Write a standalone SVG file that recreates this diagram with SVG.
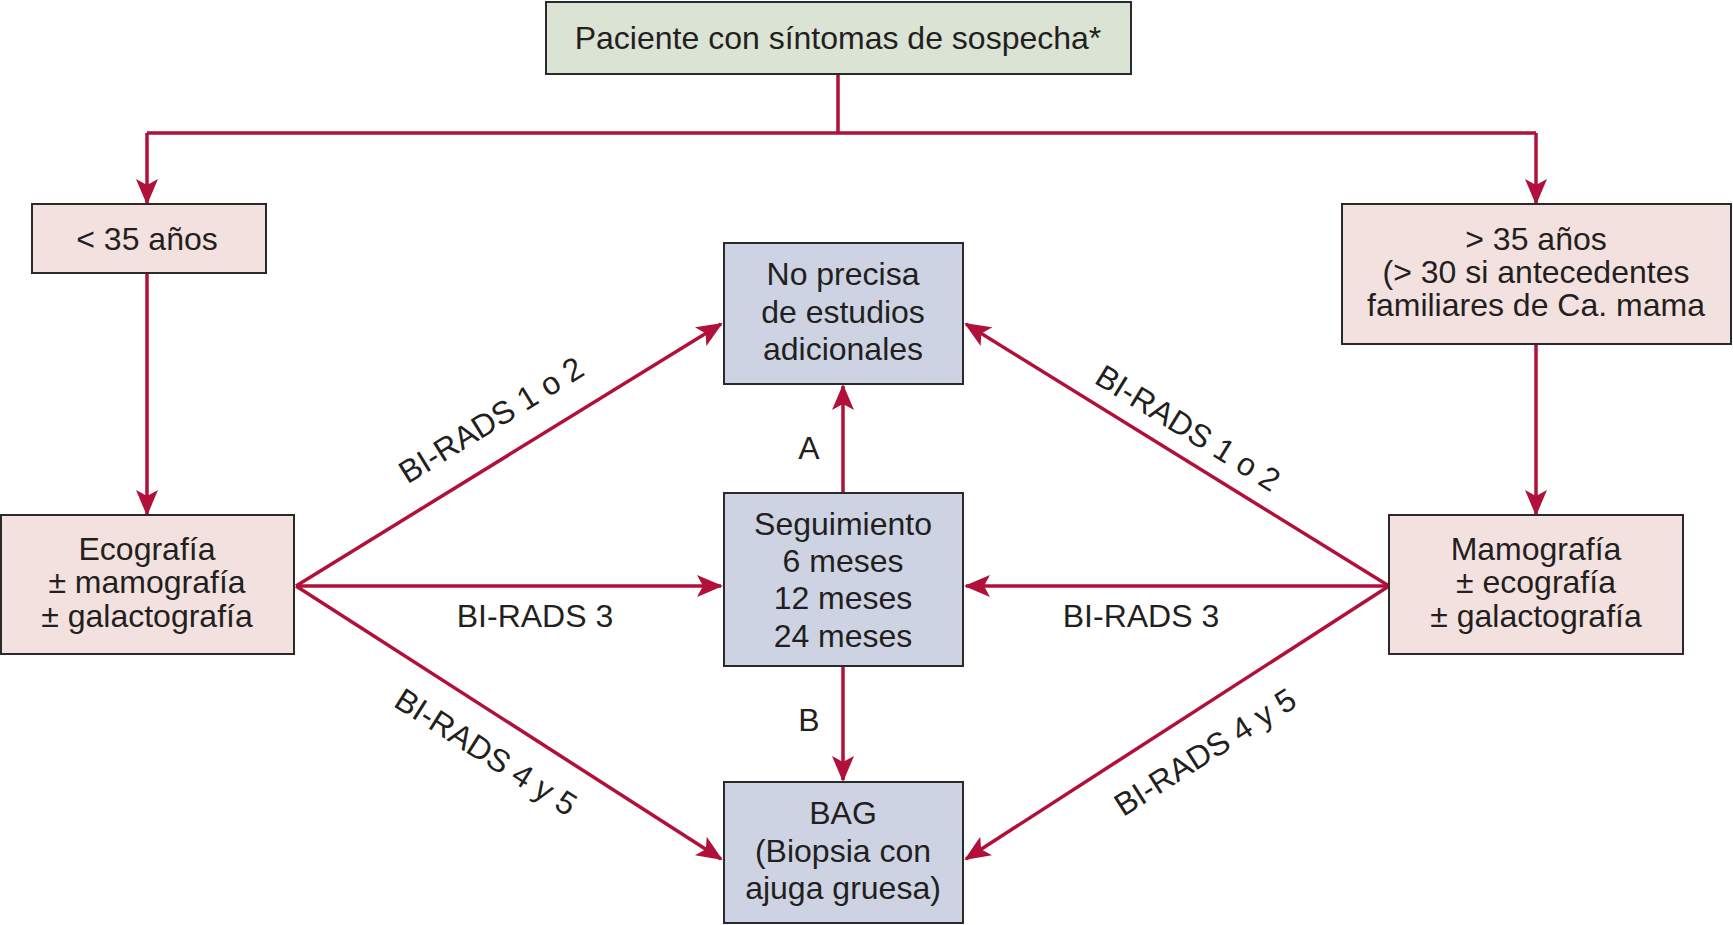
<svg xmlns="http://www.w3.org/2000/svg" width="1733" height="925" viewBox="0 0 1733 925">
<style>
.box{stroke:#2a2a2a;stroke-width:2}
.g{fill:#dbe3d5}
.p{fill:#f3e1df}
.b{fill:#cdd3e3}
text{font-family:"Liberation Sans",Arial,sans-serif;font-size:32px;fill:#231f20;text-anchor:middle}
.c{fill:none;stroke:#b0103a;stroke-width:3.5}
</style>
<defs>
<marker id="ah" markerUnits="userSpaceOnUse" markerWidth="26" markerHeight="22" viewBox="0 0 26 22" refX="24" refY="11" orient="auto">
<path d="M0,0 L26,11 L0,22 L6,11 Z" fill="#b0103a"/>
</marker>
</defs>
<rect width="1733" height="925" fill="#fff"/>
<g id="connectors">
<path class="c" d="M838,74 V133 M147,133 H1536"/>
<path class="c" d="M147,133 V203" marker-end="url(#ah)"/>
<path class="c" d="M1536,133 V203" marker-end="url(#ah)"/>
<path class="c" d="M147,273 V514" marker-end="url(#ah)"/>
<path class="c" d="M1536,344 V514" marker-end="url(#ah)"/>
<path class="c" d="M296,586 L721,324" marker-end="url(#ah)"/>
<path class="c" d="M296,586 L721,586" marker-end="url(#ah)"/>
<path class="c" d="M296,586 L721,859" marker-end="url(#ah)"/>
<path class="c" d="M1389,586 L966,324" marker-end="url(#ah)"/>
<path class="c" d="M1389,586 L966,586" marker-end="url(#ah)"/>
<path class="c" d="M1389,586 L966,859" marker-end="url(#ah)"/>
<path class="c" d="M843,493 V386" marker-end="url(#ah)"/>
<path class="c" d="M843,666 V780" marker-end="url(#ah)"/>
<text x="809" y="459">A</text>
<text x="809" y="731">B</text>
<text transform="translate(491,420) rotate(-31.7)" y="11">BI-RADS 1 o 2</text>
<text x="535" y="627">BI-RADS 3</text>
<text transform="translate(486,752) rotate(32.5)" y="11">BI-RADS 4 y 5</text>
<text transform="translate(1188,428) rotate(31.7)" y="11">BI-RADS 1 o 2</text>
<text x="1141" y="627">BI-RADS 3</text>
<text transform="translate(1205,752) rotate(-32.5)" y="11">BI-RADS 4 y 5</text>
</g>
<g id="n-paciente">
<rect class="box g" x="546" y="2" width="585" height="72"/>
<text x="838" y="49">Paciente con síntomas de sospecha*</text>
</g>
<g id="n-menor35">
<rect class="box p" x="32" y="204" width="234" height="69"/>
<text x="147" y="250">&lt; 35 años</text>
</g>
<g id="n-mayor35">
<rect class="box p" x="1342" y="204" width="389" height="140"/>
<text x="1536" y="250">&gt; 35 años</text>
<text x="1536" y="283">(&gt; 30 si antecedentes</text>
<text x="1536" y="316">familiares de Ca. mama</text>
</g>
<g id="n-eco">
<rect class="box p" x="1" y="515" width="293" height="139"/>
<text x="147" y="560">Ecografía</text>
<text x="147" y="593">± mamografía</text>
<text x="147" y="627">± galactografía</text>
</g>
<g id="n-mamo">
<rect class="box p" x="1389" y="515" width="294" height="139"/>
<text x="1536" y="560">Mamografía</text>
<text x="1536" y="593">± ecografía</text>
<text x="1536" y="627">± galactografía</text>
</g>
<g id="n-noprecisa">
<rect class="box b" x="724" y="243" width="239" height="141"/>
<text x="843" y="285">No precisa</text>
<text x="843" y="323">de estudios</text>
<text x="843" y="360">adicionales</text>
</g>
<g id="n-seguimiento">
<rect class="box b" x="724" y="493" width="239" height="173"/>
<text x="843" y="535">Seguimiento</text>
<text x="843" y="572">6 meses</text>
<text x="843" y="609">12 meses</text>
<text x="843" y="647">24 meses</text>
</g>
<g id="n-bag">
<rect class="box b" x="724" y="782" width="239" height="141"/>
<text x="843" y="824">BAG</text>
<text x="843" y="862">(Biopsia con</text>
<text x="843" y="899">ajuga gruesa)</text>
</g>
</svg>
